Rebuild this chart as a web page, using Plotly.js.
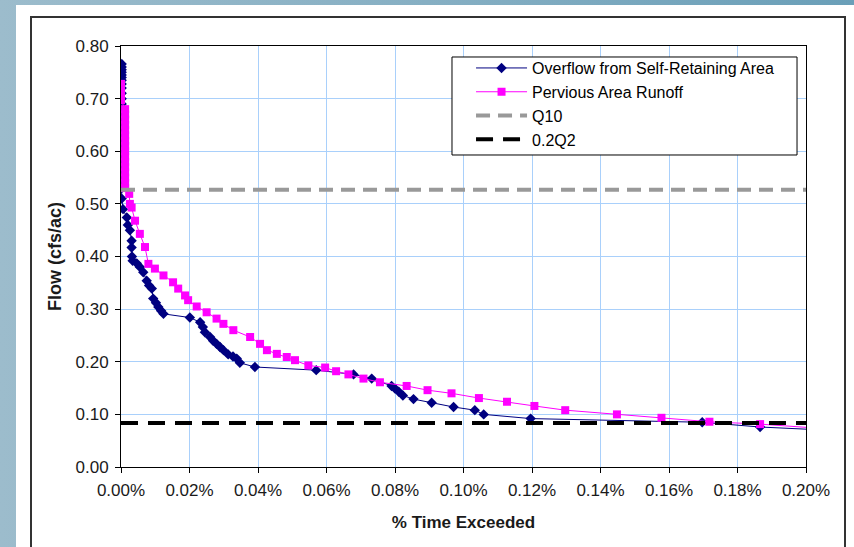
<!DOCTYPE html>
<html>
<head>
<meta charset="utf-8">
<script src="https://cdn.plot.ly/plotly-3.0.1.min.js"></script>
<style>
  html, body { margin:0; padding:0; width:854px; height:547px; overflow:hidden; }
  body { background: linear-gradient(90deg, #9cbccc 0%, #86afc3 50%, #6a9fb8 100%); position:relative; }
  #panel { position:absolute; left:16px; top:5px; width:838px; height:542px; background:#ffffff; }
  #frame { position:absolute; left:30px; top:16px; width:816px; height:600px; border:2px solid #333333; box-sizing:border-box; }
  #chart { position:absolute; left:0; top:0; width:854px; height:547px; }
</style>
</head>
<body>
<div id="panel"></div>
<div id="frame"></div>
<div id="chart"></div>
<script>
// Overflow from Self-Retaining Area (x = % time exceeded, y = flow cfs/ac)
const overflowX = [0.0002,0.0002,0.0002,0.0002,0.0002,0.0002,0.0002,0.0002,0.0002,0.0002,0.0002,0.0002,0.0002,0.0002,0.0002,0.0002,0.0002,0.0002,0.0002,0.0002,0.0002,0.0002,0.0002,0.0002,0.0002,0.0002,0.0002,
  0.0006,0.0017,0.0020,0.0026,0.0031,0.0031,0.0032,0.0034,0.0046,0.0055,0.0065,0.0075,0.0082,0.0090,0.0094,0.0102,0.0109,0.0117,0.0124,
  0.0201,0.0231,0.0239,0.0245,0.0260,0.0269,0.0279,0.0289,0.0299,0.0313,0.0327,0.0338,0.0347,0.0391,0.0570,0.0679,0.0732,0.0790,0.0800,0.0811,0.0823,0.0854,0.0907,0.0971,0.1033,0.1059,0.1196,0.1697,0.1866,0.2030];
const overflowY = [0.766,0.760,0.755,0.750,0.745,0.740,0.735,0.728,0.720,0.710,0.700,0.690,0.680,0.670,0.660,0.650,0.640,0.630,0.620,0.610,0.600,0.590,0.575,0.560,0.545,0.530,0.510,
  0.490,0.474,0.460,0.450,0.430,0.417,0.400,0.392,0.387,0.380,0.370,0.354,0.345,0.339,0.320,0.312,0.304,0.297,0.291,
  0.284,0.275,0.266,0.256,0.247,0.240,0.234,0.228,0.222,0.214,0.210,0.206,0.198,0.190,0.184,0.176,0.168,0.154,0.149,0.143,0.136,0.129,0.122,0.114,0.108,0.100,0.092,0.085,0.076,0.071];

// Pervious Area Runoff
const perviousX = [0.0000,0.0000,0.0000,0.0000,0.0000,0.0012,0.0012,0.0012,0.0012,0.0012,0.0012,0.0012,0.0012,0.0012,0.0012,0.0012,0.0012,0.0012,0.0012,0.0012,0.0012,
  0.0024,0.0026,0.0031,0.0041,0.0055,0.0070,0.0080,0.0099,0.0124,0.0152,0.0167,0.0187,0.0196,0.0221,0.0250,0.0279,0.0299,0.0328,0.0377,0.0406,0.0426,0.0455,0.0484,0.0508,0.0547,0.0596,0.0628,0.0664,0.0708,0.0756,0.0834,0.0895,0.0965,0.1045,0.1127,0.1207,0.1297,0.1448,0.1578,0.1718,0.1866,0.2030];
const perviousY = [0.728,0.720,0.712,0.705,0.697,0.680,0.670,0.660,0.650,0.640,0.630,0.620,0.610,0.600,0.590,0.580,0.570,0.560,0.550,0.540,0.530,
  0.519,0.500,0.493,0.468,0.443,0.418,0.386,0.377,0.364,0.351,0.339,0.326,0.317,0.305,0.294,0.282,0.272,0.260,0.247,0.234,0.222,0.215,0.209,0.203,0.193,0.189,0.182,0.176,0.168,0.161,0.154,0.146,0.140,0.131,0.124,0.116,0.108,0.100,0.0935,0.086,0.0815,0.074];

// Reference levels
const q10X = [0, 0.2];
const q10Y = [0.527, 0.527];
const q2X = [0, 0.2];
const q2Y = [0.0835, 0.0835];

const seriesNames = ["Overflow from Self-Retaining Area", "Pervious Area Runoff", "Q10", "0.2Q2"];

const font = "Arial, 'Liberation Sans', sans-serif";

const traces = [
  { x: overflowX, y: overflowY, name: seriesNames[0], type: "scatter", mode: "lines+markers",
    line: { color: "#000080", width: 1 }, marker: { symbol: "diamond", size: 8, color: "#000080" } },
  { x: perviousX, y: perviousY, name: seriesNames[1], type: "scatter", mode: "lines+markers",
    line: { color: "#ff00ff", width: 1 }, marker: { symbol: "square", size: 8, color: "#ff00ff" } },
  { x: q10X, y: q10Y, name: seriesNames[2], type: "scatter", mode: "lines",
    line: { color: "#999999", width: 4, dash: "14px,8px" } },
  { x: q2X, y: q2Y, name: seriesNames[3], type: "scatter", mode: "lines",
    line: { color: "#000000", width: 4, dash: "17px,10px" } }
];

const layout = {
  width: 854, height: 547,
  margin: { l: 121, r: 48, t: 46, b: 80 },
  paper_bgcolor: "rgba(0,0,0,0)",
  plot_bgcolor: "#ffffff",
  font: { family: font, size: 16, color: "#1a1a1a" },
  showlegend: true,
  legend: {
    x: 0.511, y: 0.988, xanchor: "left", yanchor: "top",
    bgcolor: "rgba(0,0,0,0)", borderwidth: 0,
    font: { family: font, size: 16, color: "#000000" },
    itemwidth: 51, tracegroupgap: 0
  },
  shapes: [
    { type: "rect", xref: "paper", yref: "paper", x0: 0.4832, x1: 0.9869, y0: 0.7411, y1: 0.9739,
      fillcolor: "#ffffff", line: { color: "#000000", width: 1 }, layer: "above" }
  ],
  xaxis: {
    range: [0, 0.2], dtick: 0.02, tick0: 0, tickformat: ".2f", ticksuffix: "%",
    showgrid: true, gridcolor: "#a9d0fb", gridwidth: 1, zeroline: false,
    showline: true, linecolor: "#000000", linewidth: 1, mirror: true,
    ticks: "outside", ticklen: 5, tickcolor: "#000000", ticklabelstandoff: 3,
    tickfont: { family: font, size: 17, color: "#1a1a1a" },
    title: { text: "<b>% Time Exceeded</b>", font: { family: font, size: 17, color: "#1a1a1a" }, standoff: 16 }
  },
  yaxis: {
    range: [0, 0.8], dtick: 0.1, tick0: 0, tickformat: ".2f",
    showgrid: true, gridcolor: "#a9d0fb", gridwidth: 1, zeroline: false,
    showline: true, linecolor: "#000000", linewidth: 1, mirror: true,
    ticks: "outside", ticklen: 5, tickcolor: "#000000", ticklabelstandoff: 3,
    tickfont: { family: font, size: 17, color: "#1a1a1a" },
    title: { text: "<b>Flow (cfs/ac)</b>", font: { family: font, size: 18, color: "#1a1a1a" }, standoff: 9 }
  }
};

Plotly.newPlot("chart", traces, layout, { displayModeBar: false, staticPlot: true });
</script>
</body>
</html>
